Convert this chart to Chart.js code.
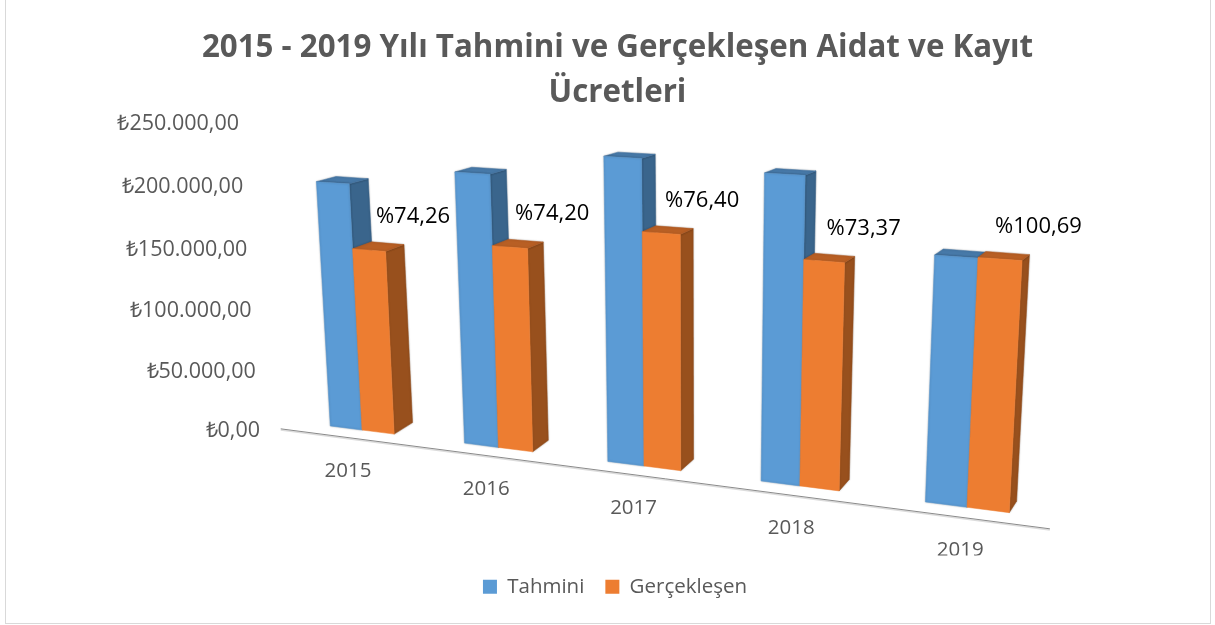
<!DOCTYPE html>
<html><head><meta charset="utf-8">
<script src="https://cdn.jsdelivr.net/npm/chart.js@4"></script>
<style>html,body{margin:0;padding:0;background:#fff}
#wrap{position:relative;width:1215px;height:625px;overflow:hidden}
#frame{position:absolute;left:5px;top:-3px;width:1204px;height:625px;border:1px solid #d9d9d9;box-sizing:content-box}
canvas{position:absolute;left:0;top:0}</style></head>
<body><div id="wrap"><div id="frame"></div><canvas id="c" width="1215" height="625"></canvas></div>
<script>
const categories = ['2015','2016','2017','2018','2019'];
const tahmini = [193500, 208000, 226500, 221000, 171000];
const gerceklesen = [142500, 153500, 172500, 161000, 171500];
const yuzdeLabels = ['%74,26','%74,20','%76,40','%73,37','%100,69'];
const yTickLabels = ['₺0,00','₺50.000,00','₺100.000,00','₺150.000,00','₺200.000,00','₺250.000,00'];
const FONT = '"Open Sans", sans-serif';
const GREY = '#595959';
const faces = [
  {front:'#5B9BD5', top:'#4779A8', side:'#3A658C'},
  {front:'#ED7D31', top:'#B85F24', side:'#98501D'}
];
// The oblique view of the reference: category position X, value v, depth w -> screen.
function view(X, v, w){
  const den = 1 - 0.03173 * X;
  const bx = (120.56 * X + 362) / den;
  const by = 430 + 0.1277 * (bx - 362);
  const h = v / 250000 * 318 / den;
  const lean = (691 - bx) / (6767 - by);
  const dx = 19 - 2.75 * X;
  const dy = -(11.5 - 6.5 * v / 200000);
  return [bx - lean * h + w * dx, by - h + w * dy];
}
function poly(ctx, pts, fill){
  ctx.beginPath();
  pts.forEach((p,i)=> i ? ctx.lineTo(p[0],p[1]) : ctx.moveTo(p[0],p[1]));
  ctx.closePath();
  ctx.fillStyle = fill; ctx.fill();
  ctx.strokeStyle = fill; ctx.lineWidth = 0.5; ctx.stroke();
}
const oblique = {
  id:'oblique',
  afterLayout(chart){
    chart.legend.left -= 2.5; chart.legend.right -= 2.5;
  },
  beforeDatasetDraw(){ return false; },
  beforeDraw(chart){
    const xs = chart.scales.x, ys = chart.scales.y;
    ys.getLabelItems(chart.chartArea).forEach((it,i)=>{
      const t = ys.ticks[i].value / 250000;
      it.options.translation = [260 - 21 * t, 431 - (295 * t + 12 * t * t)];
      it.options.textBaseline = 'middle'; it.textOffset = 0;
    });
    xs.getLabelItems(chart.chartArea).forEach((it,i)=>{
      const X = i;
      const b = view(X,0,0);
      it.options.translation = [b[0] - 14 + 1.8 * X, b[1] + 41 + 0.5 * X];
      it.options.textAlign = 'center'; it.options.textBaseline = 'middle'; it.textOffset = 0;
    });
  },
  afterDatasetsDraw(chart){
    const ctx = chart.ctx, xs = chart.scales.x, ys = chart.scales.y;
    const x0 = xs.getPixelForValue(0), u = xs.getPixelForValue(1) - x0;
    const toX = px => (px - x0) / u;
    ctx.save();
    // floor line
    const lx = [view(-0.5,0,-0.8)[0], view(4.5,0,-0.8)[0]];
    const ly = x => 429 + 0.13 * (x - 282);
    ctx.lineWidth = 1.5; ctx.strokeStyle = '#dcdcdc';
    ctx.beginPath(); ctx.moveTo(lx[0], ly(lx[0]) + 1.2); ctx.lineTo(lx[1], ly(lx[1]) + 1.2); ctx.stroke();
    ctx.lineWidth = 1; ctx.strokeStyle = '#8a8a8a';
    ctx.beginPath(); ctx.moveTo(lx[0], ly(lx[0])); ctx.lineTo(lx[1], ly(lx[1])); ctx.stroke();
    categories.forEach((_,i)=>{
      [0,1].forEach(d=>{
        const el = chart.getDatasetMeta(d).data[i];
        const L = toX(el.x - el.width/2), R = toX(el.x + el.width/2);
        const v = ys.getValueForPixel(el.y);
        const c = faces[d];
        ctx.shadowColor = 'rgba(0,0,0,0.28)'; ctx.shadowBlur = 2;
        poly(ctx,[view(R,0,0),view(R,0,1),view(R,v,1),view(R,v,0)],c.side);
        poly(ctx,[view(L,v,0),view(L,v,1),view(R,v,1),view(R,v,0)],c.top);
        ctx.shadowBlur = d===0 ? 2 : 0;
        poly(ctx,[view(L,0,0),view(R,0,0),view(R,v,0),view(L,v,0)],c.front);
        ctx.shadowBlur = 0;
      });
    });
    // percentage labels
    ctx.font = '22px ' + FONT; ctx.fillStyle = '#000'; ctx.textAlign = 'center'; ctx.textBaseline = 'middle';
    const meta = chart.getDatasetMeta(1);
    yuzdeLabels.forEach((t,i)=>{
      const el = meta.data[i];
      const p = view(toX(el.x + el.width/2), ys.getValueForPixel(el.y), 1);
      ctx.fillText(t, p[0] + 9, p[1] - 28);
    });
    ctx.restore();
  }
};
new Chart(document.getElementById('c'),{
  type:'bar',
  data:{labels:categories,datasets:[
    {label:'Tahmini',data:tahmini,backgroundColor:faces[0].front},
    {label:'Gerçekleşen',data:gerceklesen,backgroundColor:faces[1].front}
  ]},
  options:{
    responsive:false,animation:false,
    datasets:{bar:{categoryPercentage:0.484,barPercentage:1}},
    layout:{padding:{left:20,right:0,top:0,bottom:18}},
    plugins:{
      title:{display:true,text:['2015 - 2019 Yılı Tahmini ve Gerçekleşen Aidat ve Kayıt','Ücretleri'],
        color:GREY,font:{family:FONT,size:31.3,weight:'bold',lineHeight:1.42},padding:{top:26,bottom:8}},
      legend:{position:'bottom',labels:{color:GREY,font:{family:FONT,size:20.5},boxWidth:14,boxHeight:14,padding:21},padding:0},
      tooltip:{enabled:false}
    },
    scales:{
      x:{grid:{display:false},border:{display:false},afterFit:s=>{s.height=130;},
        ticks:{color:GREY,font:{family:FONT,size:20.5},maxRotation:0,autoSkip:false}},
      y:{min:0,max:250000,grid:{display:false},border:{display:false},afterFit:s=>{s.width=260;},
        ticks:{stepSize:50000,color:GREY,font:{family:FONT,size:21.5},autoSkip:false,callback:(v,i)=>yTickLabels[i]}}
    }
  },
  plugins:[oblique]
});
</script></body></html>
